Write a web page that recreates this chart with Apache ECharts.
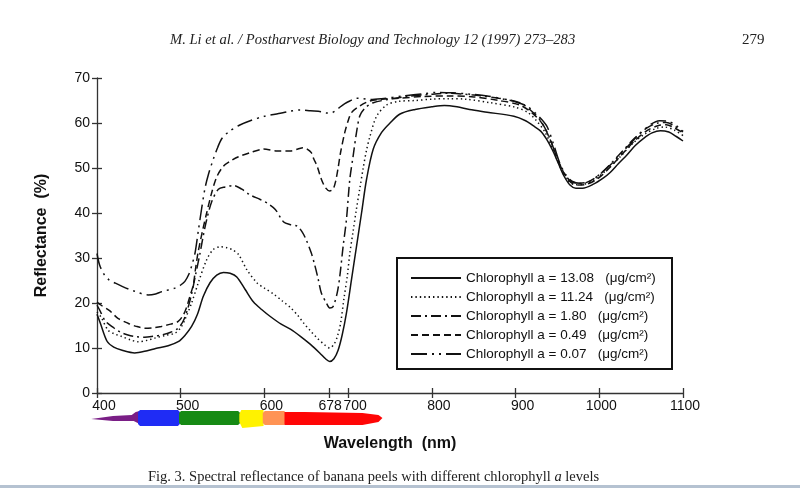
<!DOCTYPE html>
<html>
<head>
<meta charset="utf-8">
<script src="https://cdn.jsdelivr.net/npm/echarts@6/dist/echarts.min.js"></script>
<style>html,body{margin:0;padding:0;background:#fff;}#c{width:800px;height:488px;}</style>
</head>
<body>
<div id="c"></div>
<script>
// ---- data ----
var xTicks = [400, 500, 600, 678, 700, 800, 900, 1000, 1100];
var yTicks = [0, 10, 20, 30, 40, 50, 60, 70];
var seriesNames = [
  'Chlorophyll a = 13.08   (\u03bcg/cm\u00b2)',
  'Chlorophyll a = 11.24   (\u03bcg/cm\u00b2)',
  'Chlorophyll a = 1.80   (\u03bcg/cm\u00b2)',
  'Chlorophyll a = 0.49   (\u03bcg/cm\u00b2)',
  'Chlorophyll a = 0.07   (\u03bcg/cm\u00b2)'
];
var chl1308 = [[400,17.5],[404,15.5],[412,11.5],[420,10.2],[430,9.5],[445,8.9],[460,9.4],[470,9.9],[485,10.5],[497,11.4],[505,12.8],[513,14.8],[520,17.5],[527,21.5],[535,24.5],[543,26.2],[551,26.8],[559,26.6],[567,25.8],[577,23],[587,20.2],[597,18.5],[607,17],[620,15.3],[631,14.2],[643,12.6],[655,10.8],[666,8.9],[673,7.6],[678,7.0],[683,7.6],[688,9.5],[693,13],[698,17.8],[704,25.2],[710,32.6],[716,40],[722,47.5],[730,54.2],[740,57.9],[750,60],[762,62],[780,63],[800,63.6],[815,63.9],[830,63.6],[845,63],[866,62.4],[898,61.5],[912,60.5],[921,59.4],[930,58.2],[937,56.4],[944,54],[950,51.5],[957,48.5],[965,46.2],[972,45.5],[980,45.5],[993,46.4],[1005,47.8],[1013,49],[1023,51],[1033,52.9],[1043,55],[1053,56.6],[1063,57.8],[1073,58.3],[1083,58],[1092,57],[1100,56]];
var chl1124 = [[400,18],[405,16.8],[413,14],[420,13.2],[429,12.6],[440,11.8],[449,11.4],[460,11.7],[469,12.2],[482,12.8],[493,13.3],[500,14.5],[505,16.3],[513,20],[521,24.5],[531,29.6],[539,31.9],[547,32.5],[555,32.3],[562,31.8],[569,30.8],[579,27.4],[591,24.5],[600,23.3],[611,22],[621,20.5],[631,19],[640,17.2],[647,15.5],[655,13.8],[663,12.2],[672,10.7],[678,10],[683,10.8],[687,12.5],[691,15.5],[695,21],[699,26],[702,31],[706,36],[710,41],[714,45.5],[718,50],[722,54],[726,57],[734,61.5],[746,64],[760,64.8],[780,65],[800,65.3],[820,65.4],[840,65.3],[870,64.5],[900,63.5],[915,62.3],[925,60.5],[935,58],[945,54],[955,49.5],[963,47],[972,46.3],[982,46.4],[995,47.5],[1010,49.8],[1025,52.5],[1040,55.5],[1055,57.6],[1068,58.8],[1078,59.1],[1090,58.4],[1100,57.2]];
var chl180 = [[400,19.5],[403,18.5],[410,16],[420,14.5],[428,13.5],[437,12.9],[447,12.5],[457,12.4],[467,12.6],[477,12.9],[488,13.5],[497,14.4],[503,16],[508,18.5],[513,22],[518,26.5],[523,31],[527,35],[531,38.5],[537,42.5],[545,45.3],[553,45.8],[563,46.1],[573,45.3],[583,44],[595,43],[605,42],[613,40.8],[623,38],[631,37.4],[639,37.1],[645,35.8],[650,34],[656,31.1],[660,28.5],[664,25.5],[668,22.2],[674,20],[678,18.9],[682,19.2],[687,22.3],[690,25.9],[694,32.6],[698,38.6],[702,47.5],[706,52.7],[710,57.9],[714,61.6],[720,63.3],[730,64.5],[750,65.3],[770,65.9],[800,66.4],[820,66.6],[850,66.2],[880,65.5],[905,64.5],[920,62.5],[930,60.5],[940,57],[948,53],[956,49.5],[965,47.2],[975,46.6],[985,46.8],[998,48.2],[1012,50.6],[1027,53.6],[1042,56.6],[1057,58.9],[1070,60],[1080,60.1],[1090,59.3],[1100,58]];
var chl049 = [[400,20.2],[405,19.5],[415,18.3],[425,16.6],[437,15.5],[447,14.8],[457,14.4],[467,14.5],[477,14.8],[488,15.3],[497,15.9],[503,17.3],[507,19],[511,21.5],[515,24],[518,28],[521,31.5],[526,36],[531,40],[537,44.5],[543,48],[551,50.4],[560,51.6],[569,52.5],[583,53.4],[599,54.2],[615,53.8],[631,53.8],[640,54.2],[646,54.5],[651,54.2],[656,53.4],[659,52],[663,50.4],[668,47.5],[673,45.6],[678,44.9],[682,45.3],[685,47],[688,50],[691,53.5],[696,57.9],[700,60.5],[704,62.3],[714,63.8],[726,64.9],[740,65.3],[760,65.5],[790,65.9],[820,66],[850,65.8],[880,65],[905,64],[920,62.2],[932,59.8],[942,56],[950,52],[958,48.8],[966,46.8],[975,46.2],[985,46.4],[998,47.6],[1012,50],[1027,53],[1042,56],[1057,58.3],[1070,59.4],[1080,59.6],[1090,58.9],[1100,57.8]];
var chl007 = [[400,31],[403,28.5],[408,26.5],[414,25.2],[422,24.4],[430,23.7],[445,22.6],[461,21.8],[470,22],[477,22.5],[493,23.3],[500,24],[505,24.8],[510,26.5],[513,28.2],[517,31],[521,36],[525,41],[529,45.5],[533,48.5],[539,52],[544,54.5],[549,56.5],[557,58],[570,59.5],[583,60.5],[600,61.5],[617,62.1],[630,62.6],[643,62.9],[655,62.7],[668,62.5],[674,62.2],[679,62.2],[684,62.6],[690,63.5],[696,64.3],[702,64.9],[710,65.5],[718,65.4],[726,65.2],[740,65.4],[766,66],[790,66.5],[806,66.8],[825,66.7],[846,66.4],[866,66],[886,65.3],[900,64.7],[913,63.8],[925,62],[937,59.4],[945,55.5],[952,51.5],[960,48.5],[968,47],[977,46.6],[988,47],[1000,48.5],[1015,51],[1030,54],[1045,57],[1060,59.5],[1072,60.5],[1082,60.4],[1092,59.4],[1100,58.2]];
// hand-painted spectrum strip under the axis: wavelength ranges (nm)
var bandStart = [393, 449, 498, 570, 598, 624];
var bandEnd   = [451, 499, 571, 599, 626, 741];

// ---- styles ----
var bandColors = ['#7a1e86', '#1f2cf5', '#168a14', '#fff200', '#ff9354', '#ff0606'];
var dashes = ['solid', [1.4, 3], [10, 4, 2, 4], [7, 4], [16, 5, 2, 5, 2, 5]];
var allData = [chl1308, chl1124, chl180, chl049, chl007];

var chart = echarts.init(document.getElementById('c'), null, {renderer: 'canvas'});
var font = 'Liberation Sans, Arial, Helvetica, sans-serif';
var serif = 'Liberation Serif, Times New Roman, serif';

var series = allData.map(function (d, i) {
  return {
    name: seriesNames[i], type: 'line', data: d, xAxisIndex: 0, yAxisIndex: 0,
    showSymbol: false, symbol: 'none', smooth: 0.3, z: 5,
    itemStyle: {color: '#111'},
    lineStyle: {color: '#111', width: 1.5, type: dashes[i]}
  };
});
var bandData = bandStart.map(function (s, i) { return [s, bandEnd[i], 0, i]; });
series.push({
  type: 'custom', name: 'spectrum', xAxisIndex: 0, yAxisIndex: 0, clip: false, silent: true,
  encode: {x: [0, 1], y: 2},
  data: bandData,
  renderItem: function (params, api) {
    var i = api.value(3);
    var x0 = api.coord([api.value(0), 0])[0];
    var x1 = api.coord([api.value(1), 0])[0];
    var cy = api.coord([400, 0])[1] + 25;
    var col = bandColors[i];
    var pts;
    if (i === 0) {
      pts = [[x0, cy + 1], [x0 + (x1 - x0) * 0.45, cy - 2], [x1 - 8, cy - 3], [x1 - 4, cy - 6], [x1, cy - 7], [x1, cy + 6], [x1 - 6, cy + 3], [x0 + (x1 - x0) * 0.45, cy + 3]];
    } else if (i === 5) {
      pts = [[x0, cy - 6], [x0 + 20, cy - 6], [x1 - 20, cy - 5], [x1 - 4, cy - 3], [x1, cy], [x1 - 4, cy + 4], [x1 - 20, cy + 7], [x0, cy + 7]];
    } else if (i === 3) {
      pts = [[x0 + 2, cy - 8], [x1, cy - 8], [x1, cy + 8], [x0 + 3, cy + 10], [x0, cy + 4], [x0, cy - 4]];
    } else {
      var h = (i === 1) ? 8 : 7;
      pts = [[x0 + 2, cy - h], [x1 - 2, cy - h], [x1, cy - h + 2], [x1, cy + h - 2], [x1 - 2, cy + h], [x0 + 2, cy + h], [x0, cy + h - 2], [x0, cy - h + 2]];
    }
    return {type: 'polygon', shape: {points: pts}, style: {fill: col}, z2: 1};
  }
});

var xAxisBase = {
  type: 'value', min: 400, max: 1100, splitLine: {show: false}, position: 'bottom'
};
var yAxisBase = {
  type: 'value', min: 0, max: 70, interval: 10, splitLine: {show: false}, position: 'left'
};

function xLabel(v) {
  if (v === 678) return '{l|678}';
  if (v >= 1000) return '{w|' + v + '}';
  return '{n|' + v + '}';
}

var option = {
  animation: false,
  backgroundColor: '#fff',
  grid: {left: 97, top: 78, width: 586, height: 315},
  legend: {
    data: seriesNames, orient: 'vertical', left: 410, top: 271,
    itemWidth: 50, itemHeight: 14, itemGap: 5, padding: 0,
    itemStyle: {opacity: 0},
    textStyle: {fontFamily: font, fontSize: 13.5, color: '#111', lineHeight: 14},
    selectedMode: false
  },
  xAxis: [
    Object.assign({}, xAxisBase, {
      name: 'Wavelength  (nm)', nameLocation: 'middle', nameGap: 43,
      nameTextStyle: {fontFamily: font, fontSize: 16, fontWeight: 'bold', color: '#111'},
      axisLine: {show: true, lineStyle: {color: '#333', width: 1.3}},
      axisTick: {show: true, length: 5, customValues: xTicks, lineStyle: {color: '#333', width: 1.3}},
      axisLabel: {show: true, customValues: xTicks, margin: 6, formatter: xLabel,
        rich: {
          n: {fontFamily: font, fontSize: 14, color: '#111', padding: [0, 0, 0, 14]},
          l: {fontFamily: font, fontSize: 14, color: '#111', padding: [0, 0, 0, 1]},
          w: {fontFamily: font, fontSize: 14, color: '#111', padding: [0, 0, 0, 4]}
        }}
    }),
    Object.assign({}, xAxisBase, {
      axisLine: {show: false},
      axisTick: {show: true, inside: true, length: 5, customValues: xTicks, lineStyle: {color: '#333', width: 1.3}},
      axisLabel: {show: false}
    })
  ],
  yAxis: [
    Object.assign({}, yAxisBase, {
      name: 'Reflectance  (%)', nameLocation: 'middle', nameGap: 47,
      nameTextStyle: {fontFamily: font, fontSize: 16, fontWeight: 'bold', color: '#111'},
      axisLine: {show: true, lineStyle: {color: '#333', width: 1.3}},
      axisTick: {show: true, length: 5, lineStyle: {color: '#333', width: 1.3}},
      axisLabel: {show: true, margin: 7, fontFamily: font, fontSize: 14, color: '#111',
        formatter: function (v) { return yTicks.indexOf(v) >= 0 ? String(v) : ''; }}
    }),
    Object.assign({}, yAxisBase, {
      axisLine: {show: false},
      axisTick: {show: true, inside: true, length: 5, lineStyle: {color: '#333', width: 1.3}},
      axisLabel: {show: false}
    })
  ],
  graphic: [
    {type: 'text', left: 170, top: 33, style: {text: 'M. Li et al. / Postharvest Biology and Technology 12 (1997) 273\u2013283', font: 'italic 14.6px ' + serif, fill: '#222'}},
    {type: 'text', left: 742, top: 33, style: {text: '279', font: '15px ' + serif, fill: '#222'}},
    {type: 'rect', shape: {x: 397, y: 258, width: 275, height: 111}, style: {fill: 'none', stroke: '#111', lineWidth: 2}, z: 10},
    {type: 'text', left: 148, top: 470, style: {
      text: '{r|Fig. 3. Spectral reflectance of banana peels with different chlorophyll }{i|a}{r| levels}',
      rich: {r: {font: '14.5px ' + serif, fill: '#222'}, i: {font: 'italic 14.5px ' + serif, fill: '#222'}}}},
    {type: 'rect', shape: {x: 0, y: 485, width: 800, height: 3}, style: {fill: '#b5c2d1'}}
  ],
  series: series
};
chart.setOption(option);
</script>
</body>
</html>
